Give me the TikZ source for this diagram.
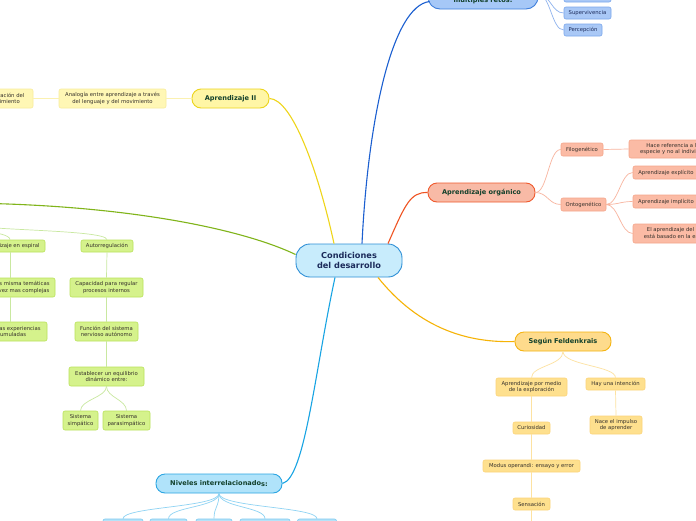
\documentclass[tikz,border=0pt]{standalone}
\usepackage{fontspec}
\setmainfont{DejaVu Sans}
\usetikzlibrary{calc}
\definecolor{maintext}{HTML}{12402B}
\definecolor{childtext}{HTML}{35302B}
\definecolor{navytext}{HTML}{1B2A5A}
\definecolor{cfill}{HTML}{C8ECFC}\definecolor{cdraw}{HTML}{2E8FD6}
\definecolor{bfill}{HTML}{A6C8F7}\definecolor{bdraw}{HTML}{3F7FDC}
\definecolor{bcfill}{HTML}{A9C8F6}\definecolor{bcdraw}{HTML}{7AA6EC}\definecolor{bline}{HTML}{1B5FD0}\definecolor{bcline}{HTML}{8FB3EE}
\definecolor{rfill}{HTML}{F8BAA6}\definecolor{rdraw}{HTML}{EF5A2E}\definecolor{rline}{HTML}{EF5322}
\definecolor{rcfill}{HTML}{FBBBA5}\definecolor{rcdraw}{HTML}{F5A68B}\definecolor{rcline}{HTML}{F8B59F}
\definecolor{yfill}{HTML}{FFF6A6}\definecolor{ydraw}{HTML}{ECD41C}\definecolor{yline}{HTML}{EFD51A}
\definecolor{ycfill}{HTML}{FFF7B5}\definecolor{ycdraw}{HTML}{F8EC9C}\definecolor{ycline}{HTML}{FBF1B0}
\definecolor{gline}{HTML}{80B41A}\definecolor{gcfill}{HTML}{D5F28C}\definecolor{gcdraw}{HTML}{B9E25A}\definecolor{gcline}{HTML}{C9E8A0}
\definecolor{ofill}{HTML}{FEDB8C}\definecolor{odraw}{HTML}{F5B412}\definecolor{oline}{HTML}{F6B306}
\definecolor{ocfill}{HTML}{FEE08E}\definecolor{ocdraw}{HTML}{FCD47A}\definecolor{ocline}{HTML}{FDE2A1}
\definecolor{nfill}{HTML}{B0E3FA}\definecolor{ndraw}{HTML}{2BA5E2}\definecolor{nline}{HTML}{18A4E3}
\definecolor{ncfill}{HTML}{B5E3F9}\definecolor{ncdraw}{HTML}{7CC9EF}\definecolor{ncline}{HTML}{8FD3F3}
\begin{document}
\begin{tikzpicture}[x=1pt,y=-1pt,
  mainbox/.style={rounded corners=9pt, line width=0.9pt, inner sep=0pt, align=center,
    text=maintext, font=\fontsize{6.6}{7.8}\selectfont\bfseries},
  childbox/.style={rounded corners=2pt, line width=0.6pt, inner sep=0pt, align=center,
    text=childtext, font=\fontsize{5.3}{6.4}\selectfont},
  branch/.style={line width=1.1pt},
  twig/.style={line width=0.7pt}]
\useasboundingbox (0,0) rectangle (696,520);
\clip (0,0) rectangle (696,520);
\fill[white] (0,0) rectangle (696,520);

% ---------- nodes ----------
\node[mainbox, fill=cfill, draw=cdraw, rounded corners=14pt, minimum width=106pt, minimum height=33pt,
  text=navytext, font=\fontsize{8.2}{10}\selectfont\bfseries] (c) at (349,260.5) {Condiciones\\del desarrollo};

% blue top
\node[mainbox, fill=bfill, draw=bdraw, rounded corners=12pt, minimum width=110pt, minimum height=29pt] (retos) at (483,-5.5) {};
\node[mainbox, text=maintext] (retostxt) at (483,0.5) {múltiples retos:};
\node[childbox, fill=bcfill, draw=bcdraw, text=navytext, minimum width=47pt, minimum height=12pt] (bt0) at (587.5,-4) {};
\node[childbox, fill=bcfill, draw=bcdraw, text=navytext, minimum width=47pt, minimum height=12pt] (sup) at (587.5,13) {Supervivencia};
\node[childbox, fill=bcfill, draw=bcdraw, text=navytext, minimum width=38pt, minimum height=12pt] (per) at (583,30) {Percepción};

% red
\node[mainbox, fill=rfill, draw=rdraw, minimum width=107pt, minimum height=19pt] (org) at (481.5,192.5) {Aprendizaje orgánico};
\node[childbox, fill=rcfill, draw=rcdraw, minimum width=42pt, minimum height=13pt] (filo) at (582,149.5) {Filogenético};
\node[childbox, fill=rcfill, draw=rcdraw, minimum width=45pt, minimum height=13pt] (onto) at (583.5,204.5) {Ontogenético};
\node[childbox, fill=rcfill, draw=rcdraw, minimum width=88pt, minimum height=18pt] (hace) at (673,149) {Hace referencia a la\\especie y no al individuo};
\node[childbox, fill=rcfill, draw=rcdraw, minimum width=66pt, minimum height=13pt] (expl) at (666,172.5) {Aprendizaje explícito};
\node[childbox, fill=rcfill, draw=rcdraw, minimum width=66pt, minimum height=13pt] (impl) at (666,201.5) {Aprendizaje implícito};
\node[childbox, fill=rcfill, draw=rcdraw, minimum width=101pt, minimum height=19pt] (elap) at (683.5,233.5) {El aprendizaje del individuo\\está basado en la experiencia};

% yellow
\node[mainbox, fill=yfill, draw=ydraw, minimum width=77pt, minimum height=19pt] (a2) at (230.5,98.5) {Aprendizaje II};
\node[childbox, fill=ycfill, draw=ycdraw, minimum width=107pt, minimum height=19pt] (analog) at (112.5,98.5) {Analogía entre aprendizaje a través\\del lenguaje y del movimiento};
\node[childbox, fill=ycfill, draw=ycdraw, minimum width=58pt, minimum height=19pt] (explo) at (4,98.5) {Exploración del\\movimiento};

% green
\coordinate (greenroot) at (-40,203);
\coordinate (gp) at (-40,222);
\node[childbox, fill=gcfill, draw=gcdraw, minimum width=70pt, minimum height=12pt] (esp) at (10,246) {Aprendizaje en espiral};
\node[childbox, fill=gcfill, draw=gcdraw, minimum width=90pt, minimum height=19pt] (mism) at (10,287.5) {Retomar las misma temáticas\\pero cada vez mas complejas};
\node[childbox, fill=gcfill, draw=gcdraw, minimum width=74pt, minimum height=19pt] (exper) at (10,331.5) {Según las experiencias\\acumuladas};
\node[childbox, fill=gcfill, draw=gcdraw, minimum width=52pt, minimum height=12pt] (auto) at (107,246) {Autorregulación};
\node[childbox, fill=gcfill, draw=gcdraw, minimum width=73pt, minimum height=19pt] (capac) at (106.5,287.5) {Capacidad para regular\\procesos internos};
\node[childbox, fill=gcfill, draw=gcdraw, minimum width=63pt, minimum height=19pt] (func) at (106.5,331.5) {Función del sistema\\nervioso autónomo};
\node[childbox, fill=gcfill, draw=gcdraw, minimum width=75pt, minimum height=19pt] (estab) at (106.5,376.5) {Establecer un equilibrio\\dinámico entre:};
\node[childbox, fill=gcfill, draw=gcdraw, minimum width=35pt, minimum height=19pt] (simp) at (80.5,420.5) {Sistema\\simpático};
\node[childbox, fill=gcfill, draw=gcdraw, minimum width=47pt, minimum height=19pt] (para) at (126.5,420.5) {Sistema\\parasimpático};

% orange
\node[mainbox, fill=ofill, draw=odraw, minimum width=96pt, minimum height=19pt] (feld) at (563,341.5) {Según Feldenkrais};
\node[childbox, fill=ocfill, draw=ocdraw, minimum width=71pt, minimum height=18pt] (apmed) at (531.5,387) {Aprendizaje por medio\\de la exploración};
\node[childbox, fill=ocfill, draw=ocdraw, minimum width=59pt, minimum height=12pt] (hay) at (615.5,384) {Hay una intención};
\node[childbox, fill=ocfill, draw=ocdraw, minimum width=52pt, minimum height=18pt] (nace) at (616,425) {Nace el impulso\\de aprender};
\node[childbox, fill=ocfill, draw=ocdraw, minimum width=37pt, minimum height=12pt] (curi) at (531.5,428) {Curiosidad};
\node[childbox, fill=ocfill, draw=ocdraw, minimum width=97pt, minimum height=12pt] (modus) at (531.5,466) {Modus operandi: ensayo y error};
\node[childbox, fill=ocfill, draw=ocdraw, minimum width=37pt, minimum height=12pt] (sens) at (531.5,504) {Sensación};
\coordinate (sensnext) at (531.5,530);

% light blue bottom
\node[mainbox, fill=nfill, draw=ndraw, minimum width=126pt, minimum height=19pt] (niv) at (219,483.5) {Niveles interrelacionado\raisebox{-1pt}{s:}};
\node[childbox, fill=ncfill, draw=ncdraw, minimum width=40pt, minimum height=16pt] (n1) at (123,527) {};
\node[childbox, fill=ncfill, draw=ncdraw, minimum width=37pt, minimum height=16pt] (n2) at (168.5,527) {};
\node[childbox, fill=ncfill, draw=ncdraw, minimum width=36pt, minimum height=16pt] (n3) at (214,527) {};
\node[childbox, fill=ncfill, draw=ncdraw, minimum width=50pt, minimum height=16pt] (n4) at (265,527) {};
\node[childbox, fill=ncfill, draw=ncdraw, minimum width=39pt, minimum height=16pt] (n5) at (317,527) {};

% ---------- main branches ----------
\draw[branch, yline] ($(c.north)+(-15,0)$) .. controls (318,170) and (292,99) .. (a2.east);
\draw[branch, bline] ($(c.north)+(13,0)$) .. controls (368,120) and (392,6) .. ($(retos.west)+(2,7)$);
\draw[branch, rline] ($(c.north)+(39,0)$) .. controls (405,205) and (410,192) .. (org.west);
\draw[branch, gline] ($(c.west)+(0,-6)$) .. controls (240,228) and (120,204) .. (greenroot);
\draw[branch, oline] ($(c.south)+(29,0)$) .. controls (420,330) and (470,343) .. (feld.west);
\draw[branch, nline] ($(c.south)+(-14,0)$) .. controls (315,370) and (305,478) .. (niv.east);

% ---------- twigs ----------
\foreach \t in {bt0,sup,per}
  \draw[twig, bcline] (retos.east) .. controls +(12,0) and +(-12,0) .. (\t.west);
\foreach \t in {filo,onto}
  \draw[twig, rcline] (org.east) .. controls +(12,0) and +(-12,0) .. (\t.west);
\draw[twig, rcline] (filo.east) -- (hace.west);
\foreach \t in {expl,impl,elap}
  \draw[twig, rcline] (onto.east) .. controls +(12,0) and +(-12,0) .. (\t.west);
\draw[twig, ycline] (a2.west) -- (analog.east);
\draw[twig, ycline] (analog.west) -- (explo.east);
\draw[twig, gcline] (gp) .. controls +(0,9) and +(0,-11) .. (auto.north);
\draw[twig, gcline] (gp) .. controls +(0,9) and +(0,-9) .. (esp.north);
\draw[twig, gcline] (esp.south) -- (mism.north);
\draw[twig, gcline] (mism.south) -- (exper.north);
\draw[twig, gcline] (auto.south) -- (capac.north);
\draw[twig, gcline] (capac.south) -- (func.north);
\draw[twig, gcline] (func.south) -- (estab.north);
\draw[twig, gcline] (estab.south) .. controls +(0,11) and +(0,-11) .. (simp.north);
\draw[twig, gcline] (estab.south) .. controls +(0,11) and +(0,-11) .. (para.north);
\draw[twig, ocline] (feld.south) .. controls +(0,14) and +(0,-12) .. (apmed.north);
\draw[twig, ocline] (feld.south) .. controls +(0,14) and +(0,-12) .. (hay.north);
\draw[twig, ocline] (hay.south) -- (nace.north);
\draw[twig, ocline] (apmed.south) -- (curi.north);
\draw[twig, ocline] (curi.south) -- (modus.north);
\draw[twig, ocline] (modus.south) -- (sens.north);
\draw[twig, ocline] (sens.south) -- (sensnext);
\foreach \t in {n1,n2,n3,n4,n5}
  \draw[twig, ncline] (niv.south) .. controls +(0,14) and +(0,-12) .. (\t.north);
\end{tikzpicture}
\end{document}
